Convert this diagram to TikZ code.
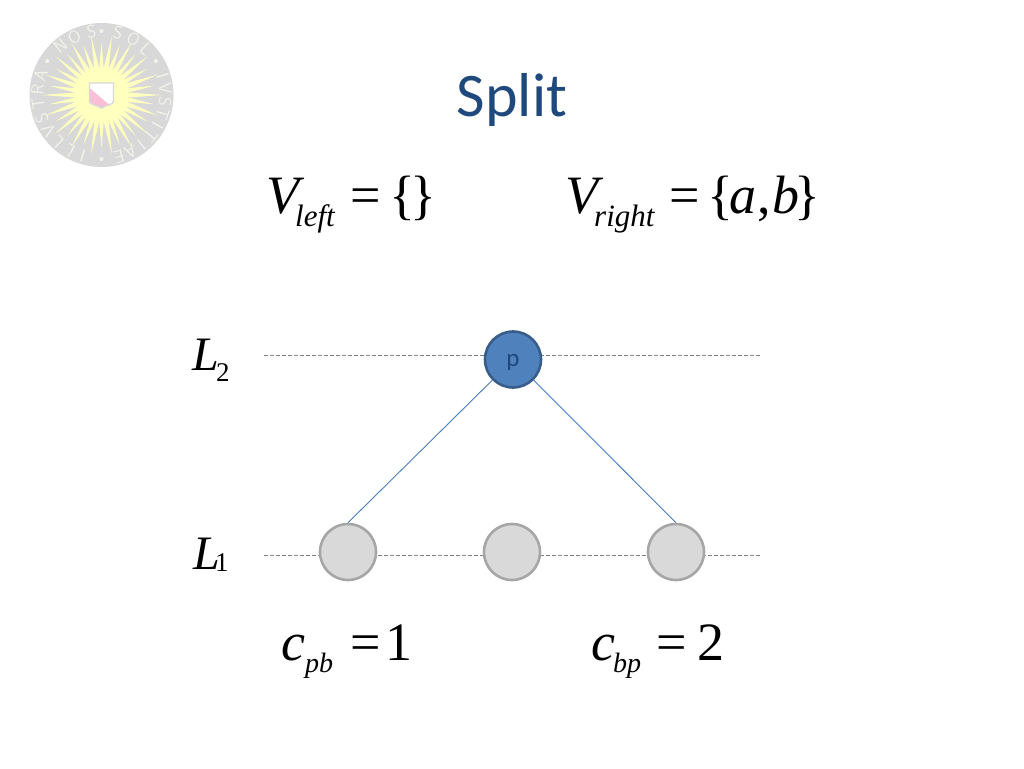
\documentclass[tikz,border=0pt]{standalone}
\usepackage{fontspec}
\setmainfont{Liberation Serif}
\newfontfamily\calib{Carlito}
\definecolor{titleblue}{RGB}{31,73,125}
\definecolor{nodeblue}{RGB}{79,129,189}
\definecolor{nodeedge}{RGB}{56,93,138}
\definecolor{edgeblue}{RGB}{74,126,187}
\definecolor{greyfill}{RGB}{217,217,217}
\definecolor{greyedge}{RGB}{166,166,166}
\definecolor{dashgrey}{RGB}{128,128,128}
\definecolor{sealgrey}{RGB}{216,216,216}
\definecolor{sealyellow}{RGB}{255,255,190}
\definecolor{sealpink}{RGB}{250,190,215}
\definecolor{sealtext}{RGB}{242,242,235}
\tikzset{
  x=1pt,y=-1pt,
  circ/.style={circle,minimum size=56pt,inner sep=0pt,line width=2.6pt},
  bluecirc/.style={circ,draw=nodeedge,fill=nodeblue,text=titleblue,font=\calib\fontsize{25}{25}\selectfont},
  greycirc/.style={circ,draw=greyedge,fill=greyfill},
  levelline/.style={draw=dashgrey,line width=0.7pt,dash pattern=on 4pt off 2pt},
  edgeline/.style={draw=edgeblue,line width=0.9pt},
  bigm/.style={anchor=base west,inner sep=0pt,font=\fontsize{54}{54}\selectfont\itshape},
  bigr/.style={anchor=base west,inner sep=0pt,font=\fontsize{54}{54}\selectfont},
  levm/.style={anchor=base west,inner sep=0pt,font=\fontsize{48}{48}\selectfont\itshape},
  subm/.style={anchor=base west,inner sep=0pt,font=\fontsize{31}{31}\selectfont\itshape},
  costsub/.style={anchor=base west,inner sep=0pt,font=\fontsize{28}{28}\selectfont\itshape},
  subr/.style={anchor=base west,inner sep=0pt,font=\fontsize{27}{27}\selectfont},
  seal/.style={inner sep=0pt,text=sealtext,font=\sffamily\fontsize{18}{18}\selectfont},
}
\begin{document}
\begin{tikzpicture}
\useasboundingbox (0,0) rectangle (1024,768);
% seal
\begin{scope}[shift={(101.5,95)}]
  \fill[sealgrey] (0,0) circle (72);
  \foreach \a in {0,20,...,340}{
    \fill[sealyellow,rotate=\a] (0,-4.5) -- (60,0) -- (0,4.5) -- cycle;
  }
  \foreach \a in {10,30,...,350}{
    \fill[sealyellow,rotate=\a] (0,-4.5) -- (53,0) -- (0,4.5) -- cycle;
  }
  \fill[sealyellow] (0,0) circle (25);
  \foreach \l/\a in {S/15,O/30,L/44,I/73,V/84.5,S/96,T/107.5,I/119,T/130,I/141.5,A/153,E/164,
                     I/197,L/210,L/223,V/236,S/249,T/262,R/275,A/288,N/320,O/335,S/351}{
    \node[seal,rotate=-\a] at ({64*sin(\a)},{-64*cos(\a)}) {\l};
  }
  \foreach \a in {0,58,180,302}{
    \fill[sealtext] ({64*sin(\a)},{-64*cos(\a)}) circle (2);
  }
  \fill[white] (-12,-12) -- (12,-12) -- (12,6) .. controls (12,10) and (4,10) .. (0,13) .. controls (-4,10) and (-12,10) .. (-12,6) -- cycle;
  \fill[sealpink] (-12,-7) -- (8,10) .. controls (4,10) and (2,11) .. (0,13) .. controls (-4,10) and (-12,10) .. (-12,6) -- cycle;
  \draw[sealgrey,line width=1.4pt] (-12,-12) -- (12,-12) -- (12,6) .. controls (12,10) and (4,10) .. (0,13) .. controls (-4,10) and (-12,10) .. (-12,6) -- cycle;
\end{scope}
% title
\node[anchor=base,inner sep=0pt,text=titleblue,font=\calib\fontsize{62}{62}\selectfont] (title) at (512,116) {Split};
% formulas
\node[bigm] (vl) at (266,213) {V};
\node[subm] (vls) at (295,226) {left};
\node[bigr] (eql) at (350,213) {=};
\node[bigr] (setl) at (389,213) {\{};
\node[bigr] (setl2) at (410,213) {\}};
\node[bigm] (vr) at (565,213) {V};
\node[subm] (vrs) at (594,226) {right};
\node[bigr] (eqr) at (669,213) {=};
\node[bigr] (setr) at (707,213) {\{};
\node[bigm] (ina) at (729,213) {a};
\node[bigr] (inc) at (757,213) {,};
\node[bigm] (inb) at (772,213) {b};
\node[bigr] (setr2) at (794,213) {\}};
% levels
\node[levm] (l2) at (192,370) {L};
\node[subr] (l2s) at (216,381) {2};
\node[levm] (l1) at (193.5,569) {L};
\node[subr] (l1s) at (215,571) {1};
\coordinate (a1) at (264,355);
\coordinate (a2) at (760,355);
\coordinate (b1) at (264,555);
\coordinate (b2) at (760,555);
\draw[levelline] (a1) -- (a2);
\draw[levelline] (b1) -- (b2);
% nodes
\node[bluecirc] (p) at (513,359.5) {\raisebox{-7pt}[0pt][0pt]{p}};
\node[greycirc] (g1) at (348,552) {};
\node[greycirc] (g2) at (512,552) {};
\node[greycirc] (g3) at (676,552) {};
\draw[edgeline] (p.225) -- (g1.north);
\draw[edgeline] (p.-45) -- (g3.north);
% costs
\node[bigm] (c1) at (281,660) {c};
\node[costsub] (c1s) at (305,672) {pb};
\node[bigr] (c1e) at (350,660) {=};
\node[bigr] (c1v) at (385,660) {1};
\node[bigm] (c2) at (591,660) {c};
\node[costsub] (c2s) at (613,672) {bp};
\node[bigr] (c2e) at (656.5,660) {=};
\node[bigr] (c2v) at (697,660) {2};
\end{tikzpicture}
\end{document}
